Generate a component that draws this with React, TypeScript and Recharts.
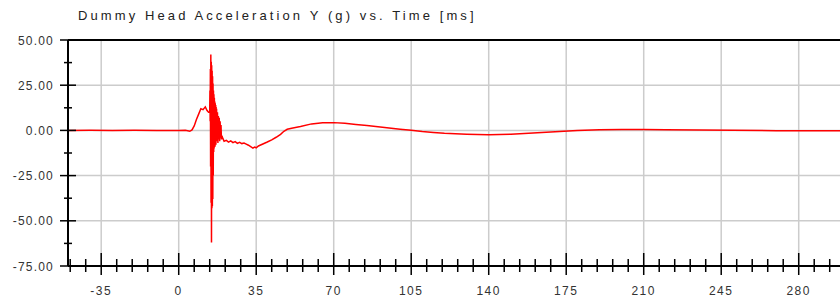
import React from "react";
import { LineChart, Line, XAxis, YAxis, ReferenceLine } from "recharts";

// time [ms] and head acceleration Y [g]
const TIME = [
  -50, -40, -30, -20, -10, 0, 3, 5, 6, 7, 8, 9, 10, 11, 12, 12.8, 13.5,
  14.0, 14.1, 14.2, 14.3, 14.4, 14.5, 14.6, 14.7, 14.8, 14.9, 15.0, 15.1, 15.2, 15.3, 15.4, 15.5,
  15.6, 15.7, 15.8, 15.9, 16.0, 16.1, 16.2, 16.3, 16.4, 16.5, 16.6, 16.7, 16.8, 16.9, 17.0, 17.1,
  17.3, 17.5, 17.7, 17.9, 18.1, 18.3, 18.5, 18.7, 18.9, 19.1, 19.3, 19.5,
  19.8, 20.5, 21.5, 22.5, 23.5, 24.5, 25.5, 26.5, 27.5, 28.5, 29.5, 30.5, 31.5, 32.5, 33.5, 34.3,
  35, 36, 38, 40, 42, 44, 46, 47.5, 49, 51, 55, 60, 65, 70, 75, 80, 85, 90, 95, 100, 105, 110,
  115, 120, 130, 140, 150, 160, 170, 180, 190, 200, 210, 220, 235, 250, 270, 300,
];

const ACCEL_Y = [
  0, 0.1, 0, 0.1, 0, 0, 0.1, -0.5, 0.3, 2.5, 6, 9, 12, 11.5, 13, 11, 10,
  10, 22, 5, 34, -20, 42, -40, 38, -62, 36, -43, 33, -42, 30, -38, 26,
  -25, 22, -12, 20, -10, 18, -8, 16, -9, 15, -7, 14, -8, 13, -6, 12,
  -6, 10, -7, 8, -5, 7, -6, 5, -4, 3, -5, -3,
  -4, -6, -5.5, -6.5, -5.8, -6.8, -6.2, -7.2, -6.6, -7.3, -7.0, -7.6, -8.2, -9.0, -9.8, -9.2,
  -9.6, -8.6, -7.5, -6.4, -5.2, -3.8, -2.2, -0.5, 0.6, 1.2, 2.2, 3.6, 4.2, 4.3, 3.9, 3.3, 2.7, 2.0, 1.3, 0.7, 0.1, -0.6,
  -1.1, -1.6, -2.1, -2.4, -2.1, -1.5, -0.8, -0.1, 0.3, 0.5, 0.5, 0.4, 0.2, 0.1, -0.2, -0.2,
];

const X_TICKS = [
  -49, -42, -35, -28, -21, -14, -7, 0, 7, 14, 21, 28, 35, 42, 49, 56, 63, 70, 77, 84, 91, 98,
  105, 112, 119, 126, 133, 140, 147, 154, 161, 168, 175, 182, 189, 196, 203, 210, 217, 224,
  231, 238, 245, 252, 259, 266, 273, 280, 287, 294,
];
const X_MAJOR = [-35, 0, 35, 70, 105, 140, 175, 210, 245, 280];
const Y_TICKS = [-75, -62.5, -50, -37.5, -25, -12.5, 0, 12.5, 25, 37.5, 50];
const Y_MAJOR = [-75, -50, -25, 0, 25, 50];

const data = TIME.map((t, i) => ({ t, y: ACCEL_Y[i] }));

const PLOT_LEFT = 68;
const PLOT_TOP = 40;
const PLOT_BOTTOM = 266;
const FONT = "'Liberation Sans', Arial, sans-serif";

function YTick(props: any) {
  const { y, payload } = props;
  const major = Y_MAJOR.includes(payload.value);
  return (
    <g>
      <line
        x1={major ? PLOT_LEFT - 8 : PLOT_LEFT - 4}
        x2={major ? PLOT_LEFT + 8 : PLOT_LEFT + 4}
        y1={y}
        y2={y}
        stroke="#000"
        strokeWidth={1.5}
      />
      {major && (
        <text x={54} y={y} dy={4.5} textAnchor="end" fontSize={12} fill="#333" fontFamily={FONT} letterSpacing={1.2}>
          {payload.value.toFixed(2)}
        </text>
      )}
    </g>
  );
}

function XTick(props: any) {
  const { x, payload } = props;
  const major = X_MAJOR.includes(payload.value);
  return (
    <g>
      <line
        x1={x}
        x2={x}
        y1={major ? PLOT_BOTTOM - 13 : PLOT_BOTTOM - 7}
        y2={major ? PLOT_BOTTOM + 9 : PLOT_BOTTOM + 6}
        stroke="#000"
        strokeWidth={1.5}
      />
      {major && (
        <text x={x} y={295} textAnchor="middle" fontSize={12} fill="#333" fontFamily={FONT} letterSpacing={1.5}>
          {payload.value}
        </text>
      )}
    </g>
  );
}

export default function App() {
  return (
    <div
      style={{
        position: "absolute",
        left: 0,
        top: 0,
        width: 840,
        height: 301,
        overflow: "hidden",
        background: "#fff",
        fontFamily: FONT,
      }}
    >
      <div
        style={{
          position: "absolute",
          left: 78,
          top: 8,
          fontSize: 13,
          letterSpacing: 3.1,
          color: "#222",
          whiteSpace: "nowrap",
        }}
      >
        Dummy Head Acceleration Y (g) vs. Time [ms]
      </div>
      <LineChart
        width={860}
        height={301}
        data={data}
        margin={{ top: PLOT_TOP, right: 17, bottom: 0, left: 0 }}
      >
        <XAxis
          dataKey="t"
          type="number"
          domain={[-50, 300]}
          ticks={X_TICKS}
          interval={0}
          tick={<XTick />}
          tickLine={false}
          axisLine={{ stroke: "#000", strokeWidth: 2 }}
          height={35}
          allowDataOverflow
        />
        <YAxis
          type="number"
          domain={[-75, 50]}
          ticks={Y_TICKS}
          interval={0}
          tick={<YTick />}
          tickLine={false}
          axisLine={{ stroke: "#000", strokeWidth: 2 }}
          width={PLOT_LEFT}
          allowDataOverflow
        />
        {X_MAJOR.map((v) => (
          <ReferenceLine key={"x" + v} x={v} stroke="#cccccc" strokeWidth={1.5} />
        ))}
        {[-50, -25, 0, 25].map((v) => (
          <ReferenceLine key={"y" + v} y={v} stroke="#cccccc" strokeWidth={1.5} />
        ))}
        <ReferenceLine y={50} stroke="#000" strokeWidth={2} />
        <Line
          type="linear"
          dataKey="y"
          stroke="#ff0000"
          strokeWidth={1.5}
          dot={false}
          isAnimationActive={false}
        />
      </LineChart>
    </div>
  );
}
